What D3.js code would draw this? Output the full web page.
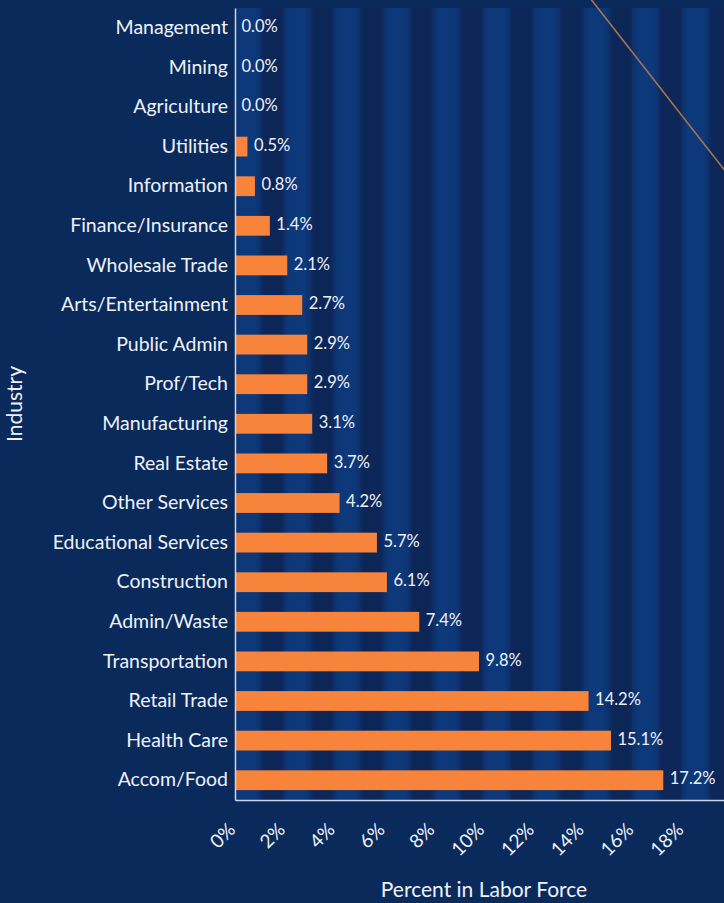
<!DOCTYPE html>
<html>
<head>
<meta charset="utf-8">
<script src="https://cdn.jsdelivr.net/npm/d3@7"></script>
<style>
  html, body { margin: 0; padding: 0; background: #0a2a5c; }
  svg { display: block; font-family: Lato, "Open Sans", sans-serif; }
</style>
</head>
<body>
<svg id="chart" width="724" height="903"></svg>
<script>
// Share of labor force by industry
const industries = [
  "Management", "Mining", "Agriculture", "Utilities", "Information",
  "Finance/Insurance", "Wholesale Trade", "Arts/Entertainment", "Public Admin",
  "Prof/Tech", "Manufacturing", "Real Estate", "Other Services",
  "Educational Services", "Construction", "Admin/Waste", "Transportation",
  "Retail Trade", "Health Care", "Accom/Food"
];
const percents = [
  0.0, 0.0, 0.0, 0.5, 0.8,
  1.4, 2.1, 2.7, 2.9,
  2.9, 3.1, 3.7, 4.2,
  5.7, 6.1, 7.4, 9.8,
  14.2, 15.1, 17.2
];
const tickValues = [0, 2, 4, 6, 8, 10, 12, 14, 16, 18];
const tickLabels = ["0%", "2%", "4%", "6%", "8%", "10%", "12%", "14%", "16%", "18%"];

const svg = d3.select("#chart");
const W = 724, H = 903;
const plotLeft = 235, plotTop = 8, plotBottom = 800, plotRight = 733;
const textColor = "#eef2f8";

svg.append("rect").attr("width", W).attr("height", H).attr("fill", "#0a2a5c");

const x = d3.scaleLinear().domain([0, 20]).range([plotLeft, plotRight]);
const y = d3.scaleBand().domain(industries).range([plotTop, plotBottom])
  .paddingInner(0.5).paddingOuter(0.25);

// striped plot background, one band per percentage point
const defs = svg.append("defs");
defs.append("filter").attr("id", "soft")
  .attr("x", "-5%").attr("y", "-5%").attr("width", "110%").attr("height", "110%")
  .append("feGaussianBlur").attr("stdDeviation", 2.5);
defs.append("clipPath").attr("id", "plotClip")
  .append("rect").attr("x", plotLeft).attr("y", plotTop)
  .attr("width", plotRight - plotLeft).attr("height", plotBottom - plotTop);

const stripes = svg.append("g").attr("clip-path", "url(#plotClip)")
  .append("g").attr("filter", "url(#soft)");
stripes.append("rect")
  .attr("x", plotLeft - 10).attr("y", plotTop - 10)
  .attr("width", plotRight - plotLeft + 20).attr("height", plotBottom - plotTop + 20)
  .attr("fill", "#0a2859");
stripes.selectAll("rect.band")
  .data(d3.range(0, 20, 2))
  .join("rect")
  .attr("class", "band")
  .attr("x", d => x(d))
  .attr("y", plotTop - 10)
  .attr("width", d => x(d + 1) - x(d))
  .attr("height", plotBottom - plotTop + 20)
  .attr("fill", "#0d3879");

// bars
svg.append("g").selectAll("rect")
  .data(industries)
  .join("rect")
  .attr("x", x(0))
  .attr("y", d => y(d))
  .attr("width", (d, i) => x(percents[i]) - x(0))
  .attr("height", y.bandwidth())
  .attr("fill", "#f7843a");

// value labels
svg.append("g").selectAll("text")
  .data(industries)
  .join("text")
  .attr("x", (d, i) => x(percents[i]) + 6.5)
  .attr("y", d => y(d) + y.bandwidth() / 2)
  .attr("dy", "0.25em")
  .attr("fill", textColor)
  .attr("font-size", 16.5)
  .text((d, i) => percents[i].toFixed(1) + "%");

// category axis
const yAxis = svg.append("g")
  .attr("transform", `translate(${plotLeft},0)`)
  .call(d3.axisLeft(y).tickSize(0).tickPadding(7));
yAxis.select(".domain").attr("stroke", "#c9d6ec").attr("stroke-width", 1.5);
yAxis.selectAll("text").attr("fill", textColor).attr("font-size", 19.5)
  .attr("font-family", "Lato, 'Open Sans', sans-serif");

// percent axis
const xAxis = svg.append("g")
  .attr("transform", `translate(0,${plotBottom})`)
  .call(d3.axisBottom(x).tickValues(tickValues).tickSize(0)
    .tickFormat((d, i) => tickLabels[i]));
xAxis.select(".domain").attr("stroke", "#c9d6ec").attr("stroke-width", 1.5);
xAxis.selectAll("text")
  .attr("fill", textColor).attr("font-size", 19)
  .attr("font-family", "Lato, 'Open Sans', sans-serif")
  .attr("text-anchor", "end")
  .attr("dy", null).attr("y", null)
  .attr("transform", "translate(1,31) rotate(-45)");

// axis titles
svg.append("text")
  .attr("x", (plotLeft + plotRight) / 2).attr("y", 897)
  .attr("text-anchor", "middle")
  .attr("fill", textColor).attr("font-size", 21)
  .text("Percent in Labor Force");
svg.append("text")
  .attr("transform", `translate(22,${(plotTop + plotBottom) / 2}) rotate(-90)`)
  .attr("text-anchor", "middle")
  .attr("fill", textColor).attr("font-size", 21)
  .text("Industry");

// thin diagonal accent across the top-right corner
svg.append("line")
  .attr("x1", 590).attr("y1", -2).attr("x2", 726).attr("y2", 172)
  .attr("stroke", "#a8744e").attr("stroke-width", 1.6);
</script>
</body>
</html>
